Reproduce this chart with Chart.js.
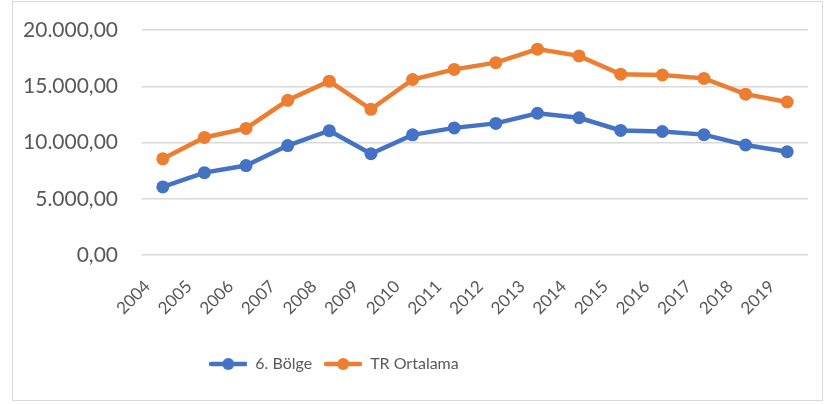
<!DOCTYPE html>
<html lang="tr">
<head>
    <meta charset="UTF-8">
    <title>6. Bölge - TR Ortalama</title>
    <style>
        body { margin: 0; background: #fff; }
        #wrap { position: relative; width: 829px; height: 404px; }
        #frame { position: absolute; left: 12px; top: 1px; width: 809px; height: 398px; border: 1px solid #d9d9d9; pointer-events: none; }
    </style>
</head>
<body>
    <div id="wrap">
        <canvas id="lineCanvas" width="829" height="404"></canvas>
        <div id="frame"></div>
    </div>

    <script src="https://cdn.jsdelivr.net/npm/chart.js@4/dist/chart.umd.min.js"></script>
    <script>
        const years = ['2004', '2005', '2006', '2007', '2008', '2009', '2010', '2011',
            '2012', '2013', '2014', '2015', '2016', '2017', '2018', '2019'];
        const bolge6 = [6050, 7320, 7950, 9730, 11050, 9000, 10680, 11300,
            11700, 12600, 12200, 11070, 10980, 10700, 9780, 9180];
        const trOrtalama = [8550, 10450, 11250, 13750, 15450, 12950, 15600, 16500,
            17100, 18300, 17700, 16070, 16000, 15700, 14300, 13600];

        const blue = '#4472C4';
        const orange = '#ED7D31';
        const textColor = '#595959';
        const fontFamily = 'Lato, "Open Sans", sans-serif';

        // 20000 -> "20.000,00"
        function formatTr(v) {
            const s = Math.round(v).toString().replace(/\B(?=(\d{3})+(?!\d))/g, '.');
            return s + ',00';
        }

        // legend marker: short line with a dot in the middle
        function legendMarker(color) {
            const c = document.createElement('canvas');
            c.width = 38;
            c.height = 14;
            const g = c.getContext('2d');
            g.strokeStyle = color;
            g.lineWidth = 4.5;
            g.lineCap = 'round';
            g.beginPath();
            g.moveTo(2, 7);
            g.lineTo(36, 7);
            g.stroke();
            g.fillStyle = color;
            g.beginPath();
            g.arc(19, 7, 6, 0, Math.PI * 2);
            g.fill();
            return c;
        }
        const markers = [legendMarker(blue), legendMarker(orange)];

        // excel puts the legend a bit left of centre
        const legendShift = {
            id: 'legendShift',
            afterLayout: function (chart) {
                chart.legend.left -= 70;
                chart.legend.right -= 70;
            }
        };

        const ctx = document.getElementById('lineCanvas').getContext('2d');
        const lineChart = new Chart(ctx, {
            type: 'line',
            data: {
                labels: years,
                datasets: [{
                    label: '6. Bölge',
                    data: bolge6,
                    borderColor: blue,
                    backgroundColor: blue,
                    borderWidth: 4.5,
                    pointRadius: 6.5,
                    pointBorderWidth: 0
                }, {
                    label: 'TR Ortalama',
                    data: trOrtalama,
                    borderColor: orange,
                    backgroundColor: orange,
                    borderWidth: 4.5,
                    pointRadius: 6.5,
                    pointBorderWidth: 0
                }]
            },
            plugins: [legendShift],
            options: {
                responsive: false,
                animation: false,
                layout: { padding: { top: 30, right: 21, left: 0, bottom: 22 } },
                scales: {
                    x: {
                        offset: true,
                        grid: { display: false, drawTicks: false },
                        border: { display: false },
                        ticks: {
                            color: textColor,
                            font: { family: fontFamily, size: 17 },
                            minRotation: 45,
                            maxRotation: 45,
                            padding: 6,
                            // trailing spaces push the rotated year down-left like excel does
                            callback: function (v, i) { return years[i] + '     '; }
                        },
                        afterFit: function (scale) { scale.height = 89; }
                    },
                    y: {
                        min: 0,
                        max: 20000,
                        grid: { color: '#d9d9d9', lineWidth: 1.5, drawTicks: false },
                        border: { display: false },
                        ticks: {
                            stepSize: 5000,
                            color: textColor,
                            padding: 24,
                            font: { family: fontFamily, size: 21 },
                            callback: function (v) { return formatTr(v); }
                        },
                        afterFit: function (scale) {
                            scale.width = 142;
                            scale.paddingTop = 10;
                            scale.paddingBottom = 10;
                        }
                    }
                },
                plugins: {
                    tooltip: { enabled: false },
                    legend: {
                        position: 'bottom',
                        labels: {
                            usePointStyle: true,
                            pointStyleWidth: 38,
                            padding: 12,
                            color: textColor,
                            font: { family: fontFamily, size: 16 },
                            generateLabels: function (chart) {
                                return chart.data.datasets.map(function (ds, i) {
                                    return {
                                        text: ds.label,
                                        pointStyle: markers[i],
                                        fontColor: textColor,
                                        lineWidth: 0,
                                        datasetIndex: i
                                    };
                                });
                            }
                        }
                    }
                }
            }
        });
    </script>
</body>
</html>
